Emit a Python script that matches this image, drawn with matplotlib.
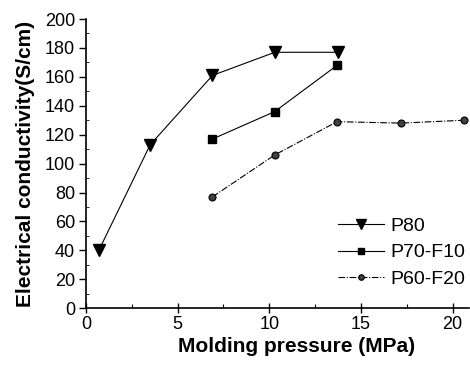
import matplotlib
matplotlib.use('Agg')
import matplotlib.pyplot as plt
from matplotlib.ticker import MultipleLocator

plt.rcParams['font.family'] = ['Liberation Sans', 'DejaVu Sans']

# data
p80_x = [0.7, 3.5, 6.9, 10.3, 13.75]
p80_y = [40, 113, 161, 177, 177]

p70_x = [6.9, 10.3, 13.7]
p70_y = [117, 136, 168]

p60_x = [6.9, 10.3, 13.7, 17.2, 20.6]
p60_y = [77, 106, 129, 128, 130]

fig = plt.figure(figsize=(4.7, 3.66), dpi=100)
ax = fig.add_axes([0.183, 0.158, 0.815, 0.79])

ax.plot(p80_x, p80_y, color='black', linewidth=0.8, marker='v', markersize=9,
	label='P80')
ax.plot(p70_x, p70_y, color='black', linewidth=0.8, marker='s', markersize=6,
	label='P70-F10')
ax.plot(p60_x, p60_y, color='black', linewidth=0.8, linestyle=(0, (6, 1.5, 1, 1.5)),
	marker='o', markersize=5, markerfacecolor='#404040', markeredgecolor='black',
	markeredgewidth=0.8, label='P60-F20')

ax.set_xlim(0, 20.9)
ax.set_ylim(0, 200)

ax.xaxis.set_major_locator(MultipleLocator(5))
ax.xaxis.set_minor_locator(MultipleLocator(2.5))
ax.yaxis.set_major_locator(MultipleLocator(20))
ax.yaxis.set_minor_locator(MultipleLocator(10))

ax.tick_params(axis='x', which='major', direction='inout', length=7, width=1, labelsize=13, pad=2)
ax.tick_params(axis='x', which='minor', direction='in', length=3, width=0.8)
ax.tick_params(axis='y', which='major', direction='out', length=5, width=1, labelsize=13, pad=3)
ax.tick_params(axis='y', which='minor', direction='in', length=2, width=0.6)

for side in ['top', 'right']:
	ax.spines[side].set_visible(False)
for side in ['left', 'bottom']:
	ax.spines[side].set_linewidth(1.2)

ax.set_xlabel('Molding pressure (MPa)', fontsize=15, fontweight='bold', labelpad=3, x=0.55)
ax.set_ylabel('Electrical conductivity(S/cm)', fontsize=15, fontweight='bold', labelpad=7)

ax.legend(loc='lower right', bbox_to_anchor=(1.02, 0.03), frameon=False, fontsize=14,
	handlelength=2.4, handletextpad=0.3, labelspacing=0.45, borderaxespad=0.2,
	markerscale=0.8)

fig.savefig('out.png', dpi=100)
